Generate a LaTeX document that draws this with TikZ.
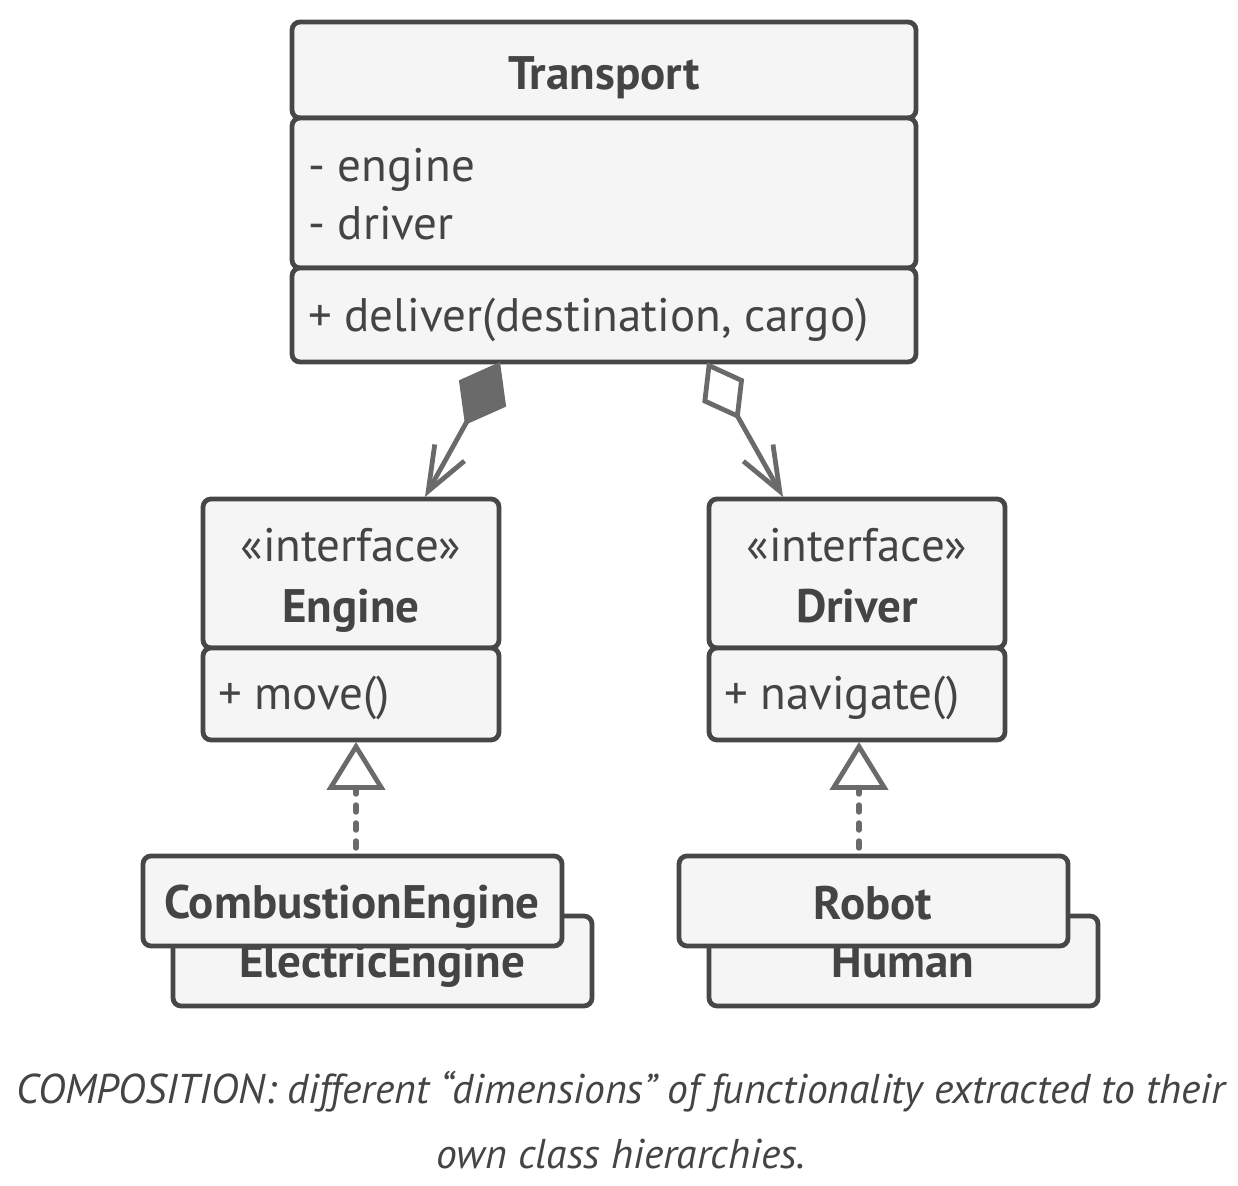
\documentclass[tikz,border=0pt]{standalone}
\usepackage{fontspec}
\setmainfont{PT Sans}
\usetikzlibrary{arrows.meta}
\definecolor{bd}{HTML}{474747}
\definecolor{ar}{HTML}{6A6A6A}
\definecolor{fl}{HTML}{F5F5F5}
\definecolor{tx}{HTML}{444444}
\begin{document}
\begin{tikzpicture}[x=0.5pt,y=-0.5pt,
  comp/.style={draw=bd, fill=fl, line width=2.4pt, rounded corners=4pt, inner sep=0pt, outer sep=0pt, anchor=north west},
  lbl/.style={text=tx, font=\fontsize{23.5}{28}\selectfont, inner sep=0pt},
  bl/.style={lbl, font=\fontsize{23.5}{28}\selectfont\bfseries},
  conn/.style={draw=ar, line width=2.4pt},
  compo/.style={conn, {Diamond[fill=ar, length=36pt, width=27pt, line width=0pt]}-{Straight Barb[length=22pt, width=17pt, line width=2.4pt]}},
  aggr/.style={conn, {Diamond[open, fill=white, length=33pt, width=24pt]}-{Straight Barb[length=22pt, width=17pt, line width=2.4pt]}},
  realize/.style={conn, line width=2.7pt, line cap=round, dash pattern=on 3.5pt off 5.5pt, -{Triangle[open, fill=white, length=24pt, width=29pt, line width=2.4pt, line cap=butt]}}
]
\useasboundingbox (0,0) rectangle (1238,1186);

% Transport
\node[comp, minimum width=312pt, minimum height=48pt] (tn) at (292,22) {};
\node[comp, minimum width=312pt, minimum height=75pt] (ta) at (292,118) {};
\node[comp, minimum width=312pt, minimum height=47pt] (tm) at (292,268) {};
\node[bl, anchor=base] (tnl) at (604,90) {Transport};
\node[lbl, anchor=base west] (ta1) at (308,182) {- engine};
\node[lbl, anchor=base west] (ta2) at (308,240) {- driver};
\node[lbl, anchor=base west] (tm1) at (308,332) {+ deliver(destination, cargo)};

% Engine
\node[comp, minimum width=148pt, minimum height=74.5pt] (en) at (203,499) {};
\node[comp, minimum width=148pt, minimum height=46pt] (em) at (203,648) {};
\node[lbl, anchor=base] (en1) at (351,562) {«interface»};
\node[bl, anchor=base] (en2) at (351,623) {Engine};
\node[lbl, anchor=base west] (em1) at (218,710) {+ move()};

% Driver
\node[comp, minimum width=148pt, minimum height=74.5pt] (dn) at (709,499) {};
\node[comp, minimum width=148pt, minimum height=46pt] (dm) at (709,648) {};
\node[lbl, anchor=base] (dn1) at (857,562) {«interface»};
\node[bl, anchor=base] (dn2) at (857,623) {Driver};
\node[lbl, anchor=base west] (dm1) at (724,710) {+ navigate()};

% Engine implementations
\node[comp, minimum width=209.5pt, minimum height=45pt] (ee) at (173,916) {};
\node[bl, anchor=base] (eel) at (382,978) {ElectricEngine};
\node[comp, minimum width=209.5pt, minimum height=45pt] (ce) at (143,856) {};
\node[bl, anchor=base] (cel) at (352,919) {CombustionEngine};

% Driver implementations
\node[comp, minimum width=194.5pt, minimum height=45pt] (hu) at (709,916) {};
\node[bl, anchor=base] (hul) at (903,978) {Human};
\node[comp, minimum width=194.5pt, minimum height=45pt] (ro) at (679,856) {};
\node[bl, anchor=base] (rol) at (873,920) {Robot};

% connector end points
\coordinate (c1s) at (500,362);
\coordinate (c1t) at (425,497);
\coordinate (c2s) at (707,362);
\coordinate (c2t) at (783,497);
\coordinate (r1s) at (356,848);
\coordinate (r1t) at (356,742);
\coordinate (r2s) at (859,848);
\coordinate (r2t) at (859,742);

\draw[compo] (c1s) -- (c1t);
\draw[aggr] (c2s) -- (c2t);
\draw[realize] (r1s) -- (r1t);
\draw[realize] (r2s) -- (r2t);

% caption
\node[lbl, font=\fontsize{20.8}{25}\selectfont\itshape, anchor=base] (cap1) at (621,1103) {COMPOSITION: different “dimensions” of functionality extracted to their};
\node[lbl, font=\fontsize{20.8}{25}\selectfont\itshape, anchor=base] (cap2) at (621,1168) {own class hierarchies.};
\end{tikzpicture}
\end{document}
